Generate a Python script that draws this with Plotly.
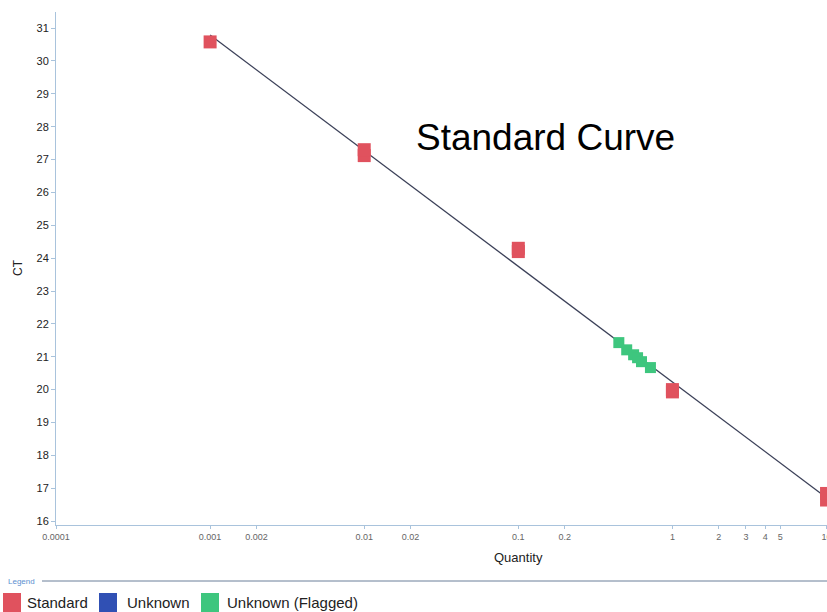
import plotly.graph_objects as go

# ---- data ----
std_qty = [0.001, 0.01, 0.01, 0.1, 0.1, 1, 1, 10, 10]
std_ct = [30.58, 27.12, 27.3, 24.2, 24.3, 19.93, 20.0, 16.64, 16.84]
flag_qty = [0.449, 0.505, 0.56, 0.594, 0.63, 0.72]
flag_ct = [21.43, 21.21, 21.06, 20.97, 20.85, 20.67]
fit_slope = -3.52
fit_ct_at_0001 = 30.79
fit_qty = [0.001, 10]
fit_ct = [fit_ct_at_0001 + fit_slope * (i * 4) for i in range(2)]

x_tickvals = [0.0001, 0.001, 0.002, 0.01, 0.02, 0.1, 0.2, 1, 2, 3, 4, 5, 10]
x_ticktext = ["0.0001", "0.001", "0.002", "0.01", "0.02", "0.1", "0.2", "1", "2", "3", "4", "5", "10"]
y_tickvals = list(range(16, 32))

legend_names = ["Standard", "Unknown", "Unknown (Flagged)"]
legend_colors = ["#e0525e", "#3050b4", "#3ec67e"]

W, H = 827, 612
L, R, T, B = 56, 0, 12, 87
PW, PH = W - L - R, H - T - B


def px(xp):
    return (xp - L) / PW


def py(yp):
    return (H - B - yp) / PH


fig = go.Figure()
fig.add_trace(go.Scatter(x=fit_qty, y=fit_ct, mode="lines",
                         line=dict(color="#3b4058", width=1.3),
                         showlegend=False, hoverinfo="skip", cliponaxis=False))
fig.add_trace(go.Scatter(x=std_qty, y=std_ct, mode="markers", name="Standard",
                         marker=dict(symbol="square", size=13, color=legend_colors[0],
                                     line=dict(width=0)),
                         showlegend=False))
fig.add_trace(go.Scatter(x=flag_qty, y=flag_ct, mode="markers", name="Unknown (Flagged)",
                         marker=dict(symbol="square", size=11, color=legend_colors[2],
                                     line=dict(width=0)),
                         showlegend=False))

shapes = []
annotations = []

# Title inside plot
annotations.append(dict(text="Standard Curve", x=px(545), y=py(137), xref="paper", yref="paper",
                        showarrow=False, font=dict(family="Liberation Sans, Arial", size=37, color="#000"),
                        xanchor="center", yanchor="middle"))
# X title
annotations.append(dict(text="Quantity", x=px(518), y=py(557), xref="paper", yref="paper",
                        showarrow=False, font=dict(family="Liberation Sans, Arial", size=13, color="#222"),
                        xanchor="center", yanchor="middle"))
# Y title
annotations.append(dict(text="CT", x=px(18), y=py(268), xref="paper", yref="paper",
                        showarrow=False, textangle=-90,
                        font=dict(family="Liberation Sans, Arial", size=12, color="#222"),
                        xanchor="center", yanchor="middle"))
# Legend header
annotations.append(dict(text="Legend", x=px(6), y=py(581), xref="paper", yref="paper",
                        showarrow=False, font=dict(family="Liberation Sans, Arial", size=8, color="#5b8fd0"),
                        xanchor="left", yanchor="middle"))
shapes.append(dict(type="line", xref="paper", yref="paper", x0=px(42), x1=px(827),
                   y0=py(581), y1=py(581), line=dict(color="#6a7f99", width=1)))

box_x = [3, 99, 201]
text_x = [25, 125, 225]
for name, col, bx, tx in zip(legend_names, legend_colors, box_x, text_x):
    shapes.append(dict(type="rect", xref="paper", yref="paper", x0=px(bx), x1=px(bx + 18),
                       y0=py(612), y1=py(593), fillcolor=col, line=dict(width=0)))
    annotations.append(dict(text=name, x=px(tx), y=py(602), xref="paper", yref="paper",
                            showarrow=False, font=dict(family="Liberation Sans, Arial", size=15, color="#222"),
                            xanchor="left", yanchor="middle"))

fig.update_layout(
    width=W, height=H,
    margin=dict(l=L, r=R, t=T, b=B),
    paper_bgcolor="white", plot_bgcolor="white",
    shapes=shapes, annotations=annotations,
    showlegend=False,
    xaxis=dict(type="log", range=[-4, 1.003], tickvals=x_tickvals, ticktext=x_ticktext,
               automargin=False, ticklabeloverflow="allow",
               showgrid=False, zeroline=False, showline=True, linecolor="#a9c3dc", linewidth=1,
               ticks="outside", ticklen=3, tickcolor="#a9c3dc",
               tickfont=dict(family="Liberation Sans, Arial", size=9, color="#666")),
    yaxis=dict(range=[15.88, 31.49], tickvals=y_tickvals, automargin=False,
               showgrid=False, zeroline=False, showline=True, linecolor="#a9c3dc", linewidth=1,
               ticks="outside", ticklen=4, tickcolor="#a9c3dc",
               tickfont=dict(family="Liberation Sans, Arial", size=11, color="#222")),
)

fig.write_html("out.html", config={"displayModeBar": False},
               post_script="document.body.style.margin='0px';document.body.style.padding='0px';")
